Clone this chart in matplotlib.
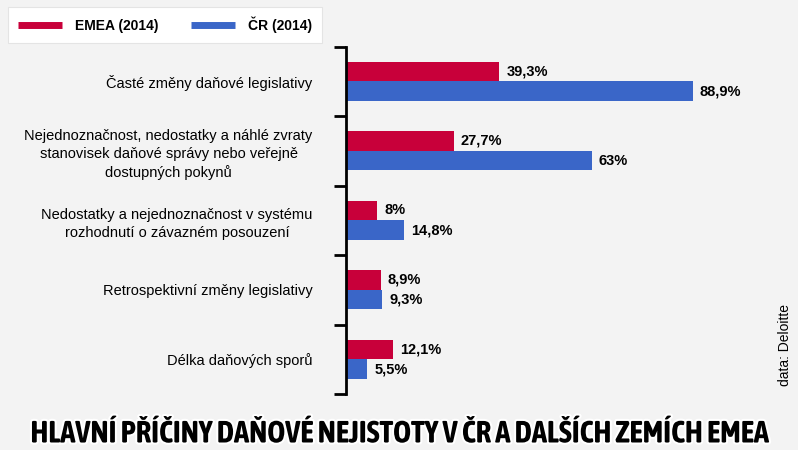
import numpy as np
import matplotlib
matplotlib.use('Agg')
import matplotlib.pyplot as plt
import matplotlib.patheffects as pe
from matplotlib import font_manager
from matplotlib.lines import Line2D

categories = [
    'Časté změny daňové legislativy',
    'Nejednoznačnost, nedostatky a náhlé zvraty\nstanovisek daňové správy nebo veřejně\ndostupných pokynů',
    'Nedostatky a nejednoznačnost v systému\nrozhodnutí o závazném posouzení',
    'Retrospektivní změny legislativy',
    'Délka daňových sporů',
]
emea = [39.3, 27.7, 8.0, 8.9, 12.1]
cr = [88.9, 63.0, 14.8, 9.3, 5.5]
emea_labels = ['39,3%', '27,7%', '8%', '8,9%', '12,1%']
cr_labels = ['88,9%', '63%', '14,8%', '9,3%', '5,5%']
series_names = ['EMEA (2014)', 'ČR (2014)']
title_text = 'HLAVNÍ PŘÍČINY DAŇOVÉ NEJISTOTY V ČR A DALŠÍCH ZEMÍCH EMEA'

RED = '#c8003a'
BLUE = '#3a66c8'
BG = '#f3f3f3'

plt.rcParams['font.family'] = ['Liberation Sans', 'DejaVu Sans']

fig = plt.figure(figsize=(7.98, 4.5), dpi=100, facecolor=BG)
ax = fig.add_axes([346 / 798, 56 / 450, 390 / 798, 347.5 / 450])
ax.set_facecolor('none')

y = np.arange(len(categories))
h = 0.283
ax.barh(y - h / 2, emea, height=h, color=RED)
ax.barh(y + h / 2, cr, height=h, color=BLUE)

ax.set_xlim(0, 100)
ax.set_ylim(len(categories) - 0.5, -0.5)

for i in range(len(categories)):
    ax.annotate(emea_labels[i], (emea[i], y[i] - h / 2), xytext=(5, 0),
                textcoords='offset points', va='center', ha='left',
                fontsize=10.5, fontweight='bold')
    ax.annotate(cr_labels[i], (cr[i], y[i] + h / 2), xytext=(5, 0),
                textcoords='offset points', va='center', ha='left',
                fontsize=10.5, fontweight='bold')

ax.set_yticks(y)
ax.set_yticklabels(categories, fontsize=10.5, multialignment='center', linespacing=1.35)
ax.tick_params(axis='y', which='major', length=0, pad=24)
ax.set_yticks(np.arange(-0.5, len(categories)), minor=True)
ax.tick_params(axis='y', which='minor', length=9, width=2, color='black')
ax.set_xticks([])

for s in ['top', 'right', 'bottom']:
    ax.spines[s].set_visible(False)
ax.spines['left'].set_linewidth(2)

handles = [Line2D([], [], color=RED, lw=5, solid_capstyle='butt'),
           Line2D([], [], color=BLUE, lw=5, solid_capstyle='butt')]
leg = fig.legend(handles, series_names, loc='upper left',
                 bbox_to_anchor=(8 / 798, 1 - 7 / 450), borderaxespad=0,
                 ncol=2, frameon=True, fancybox=False, framealpha=1,
                 handlelength=3.2, handletextpad=0.95, columnspacing=2.3,
                 borderpad=0.7, prop={'weight': 'bold', 'size': 10})
leg.get_frame().set_facecolor('white')
leg.get_frame().set_edgecolor('#e4e4e4')
leg.get_frame().set_linewidth(0.8)

fig.text(785 / 798, 1 - 345 / 450, 'data: Deloitte', rotation=90,
         ha='center', va='center', fontsize=10)


def is_bold(f):
    w = f.weight
    if isinstance(w, str):
        return w in ('bold', 'heavy', 'black', 'extra bold', 'ultrabold', 'demibold', 'semibold')
    return w >= 600


# title font: prefer a bold condensed family if one is installed
narrow = [f.name for f in font_manager.fontManager.ttflist
          if ('Condensed' in f.name or 'Narrow' in f.name) and is_bold(f)]
title_family = [narrow[0], 'DejaVu Sans'] if narrow else ['Liberation Sans', 'DejaVu Sans']
title = fig.text(0.5, 1 - 434 / 450, title_text, ha='center', va='center',
                 fontsize=21, fontweight='bold', family=title_family)
title.set_path_effects([pe.withStroke(linewidth=3, foreground='white')])
renderer = fig.canvas.get_renderer()
w = title.get_window_extent(renderer).width
title.set_fontsize(min(24, 21 * 740 / w))

fig.savefig('out.png', dpi=100, facecolor=BG)
